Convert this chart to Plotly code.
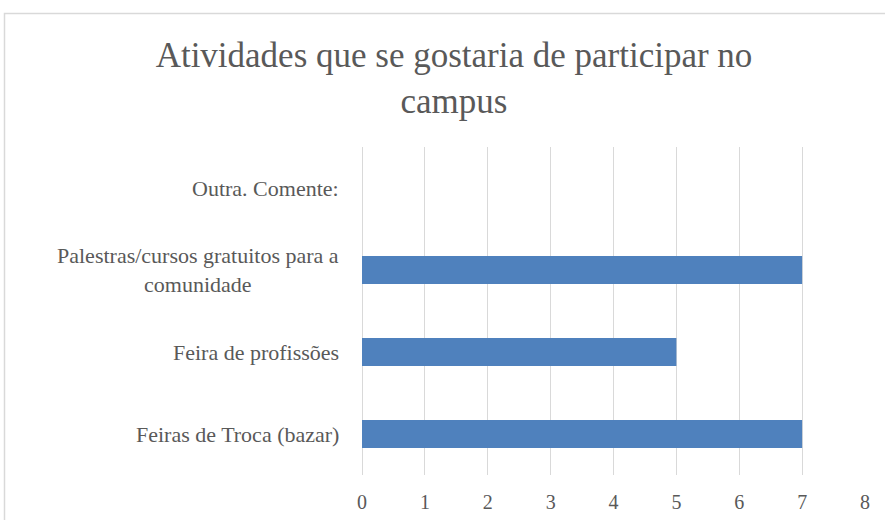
import plotly.graph_objects as go

categories = ["Feiras de Troca (bazar)", "Feira de profissões",
              "Palestras/cursos gratuitos para a<br>comunidade", "Outra. Comente:"]
values = [7, 5, 7, 0]
x_ticks = [0, 1, 2, 3, 4, 5, 6, 7, 8]

FONT = "Liberation Serif, serif"
GRAY = "#595959"

fig = go.Figure(go.Bar(
    x=values, y=categories, orientation="h",
    marker=dict(color="#4F81BD", line=dict(width=0)),
    width=0.34,
))

annotations = [
    dict(x=-0.042, xref="paper", y=c, yref="y", text=c, showarrow=False,
         xanchor="right", yanchor="middle", align="center",
         font=dict(family=FONT, size=22, color=GRAY))
    for c in categories
]

L, R, T, B = 362, 20, 147, 45
pw, ph = 885 - L - R, 520 - T - B
def px(xp): return (xp - L) / pw
def py(yp): return (520 - B - yp) / ph

fig.update_layout(
    width=885, height=520,
    margin=dict(l=L, r=R, t=T, b=B, autoexpand=False),
    paper_bgcolor="white", plot_bgcolor="white",
    showlegend=False,
    title=dict(text="Atividades que se gostaria de participar no<br>campus",
               x=px(454), xref="paper", xanchor="center",
               y=1 - 67 / 520, yref="container", yanchor="top",
               font=dict(family=FONT, size=35, color=GRAY)),
    xaxis=dict(range=[0, 8], tickvals=x_ticks, showgrid=True, gridcolor="#D9D9D9",
               gridwidth=1, zeroline=True, zerolinecolor="#D9D9D9", zerolinewidth=1,
               showline=False, ticks="", ticklabelstandoff=13, automargin=False,
               tickfont=dict(family=FONT, size=20, color=GRAY)),
    yaxis=dict(showticklabels=False, showgrid=False, zeroline=False, showline=False,
               ticks="", automargin=False,
               categoryorder="array", categoryarray=categories),
    annotations=annotations,
    shapes=[dict(type="rect", xref="paper", yref="paper",
                 x0=px(4.5), x1=px(905), y0=py(530), y1=py(13.5),
                 line=dict(color="#D9D9D9", width=1.5), fillcolor="rgba(0,0,0,0)",
                 layer="below")],
    bargap=0.66,
)

fig.write_html("out.html", config={"displayModeBar": False},
               post_script="document.body.style.margin='0';document.body.style.overflow='hidden';")
